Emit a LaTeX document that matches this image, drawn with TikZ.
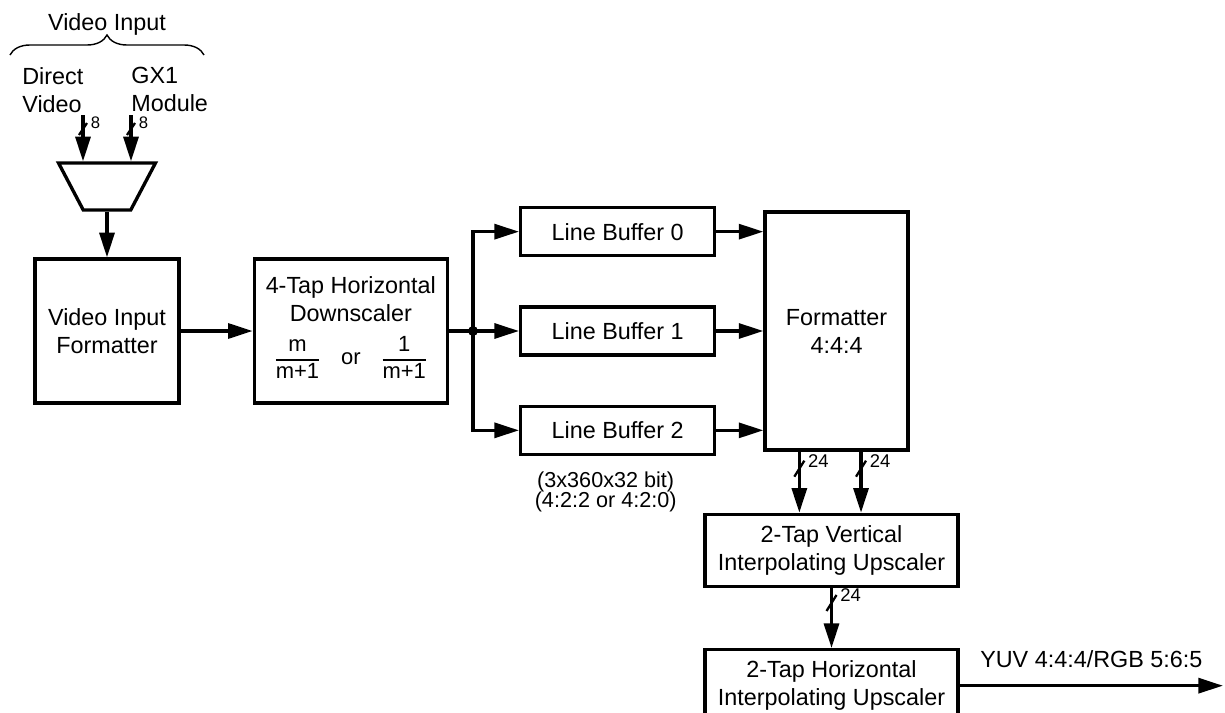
\documentclass[tikz,border=0pt]{standalone}
\usepackage{fontspec}
\setmainfont{Liberation Sans}
\usetikzlibrary{positioning,arrows.meta,shapes.geometric,decorations.pathreplacing}
\setlength{\arrayrulewidth}{1.3pt}
\newcommand{\fracbox}[2]{\begin{tabular}{@{}c@{}}#1\\\hline #2\end{tabular}}
\tikzstyle{block} = [rectangle, draw, line width=1.9pt, inner sep=0pt, align=center,
    font=\fontsize{13.3}{15.9}\selectfont]
\tikzstyle{txt} = [inner sep=0pt, align=left, font=\fontsize{13.3}{15.9}\selectfont]
\tikzstyle{arrow} = [-{Triangle[length=14pt,width=8.5pt]}, line width=1.9pt]
\tikzstyle{busmark} = [line width=1.3pt]
\tikzstyle{buswidth} = [anchor=west, inner xsep=1.5pt, inner ysep=0pt, font=\fontsize{10.5}{12}\selectfont]
\tikzstyle{curly} = [decorate, decoration={brace, amplitude=0.4cm}, line width=0.8pt]

\begin{document}
\begin{tikzpicture}
    \useasboundingbox (0,0) rectangle (24.5,-14.26);
    \clip (0,0) rectangle (24.5,-14.26);
    % Inputs
    \node (vidin) [txt, anchor=base] at (2.14,-0.60) {Video Input};
    \coordinate (brl) at (0.20,-1.10);
    \coordinate (brr) at (4.08,-1.10);
    \draw[curly] (brl) -- (brr);
    \node (dv) [txt, anchor=north west] at (0.44,-1.34) {Direct\\Video};
    \node (gx) [txt, anchor=north west] at (2.62,-1.34) {GX1\\Module};
    \coordinate (dvin) at (1.66,-2.30);
    \coordinate (gxin) at (2.62,-2.30);
    \node (mux) [trapezium, draw, line width=1.9pt, trapezium stretches=true, trapezium angle=62.5,
        shape border rotate=180, minimum width=1.94cm, minimum height=0.94cm, inner sep=2pt] at (2.14,-3.73) {};

    % Blocks
    \node (vif) [block, minimum width=2.88cm, minimum height=2.88cm] at (2.14,-6.62) {Video Input\\Formatter};
    \node (down) [block, minimum width=3.86cm, minimum height=2.88cm, right=1.44cm of vif]
        {4-Tap Horizontal\\Downscaler\\[6pt]{\fontsize{12.5}{14}\selectfont\fracbox{m}{m+1}\quad or\quad\fracbox{1}{m+1}}};
    \node (lb1) [block, minimum width=3.88cm, minimum height=0.96cm, right=1.40cm of down] {Line Buffer 1};
    \node (lb0) [block, minimum width=3.88cm, minimum height=0.96cm, above=0.96cm of lb1] {Line Buffer 0};
    \node (lb2) [block, minimum width=3.88cm, minimum height=0.96cm, below=0.96cm of lb1] {Line Buffer 2};
    \node (lbsize) [txt, align=center, font=\fontsize{12.3}{11.9}\selectfont, below=0.30cm of lb2, xshift=-0.24cm]
        {(3x360x32 bit)\\(4:2:2 or 4:2:0)};
    \node (fmt) [block, minimum width=2.86cm, minimum height=4.76cm, right=0.94cm of lb1] {Formatter\\4:4:4};
    \node (vup) [block, minimum width=5.06cm, minimum height=1.44cm, below=1.22cm of fmt, xshift=-0.10cm]
        {2-Tap Vertical\\Interpolating Upscaler};
    \node (hup) [block, minimum width=5.06cm, minimum height=1.44cm, below=1.20cm of vup]
        {2-Tap Horizontal\\Interpolating Upscaler};

    % Arrows
    \draw[arrow] (dvin) -- (dvin |- mux.north);
    \draw[arrow] (gxin) -- (gxin |- mux.north);
    \draw[busmark] (dvin) ++(-0.08,-0.40) -- ++(0.16,0.24) node[buswidth, font=\fontsize{9.5}{11}\selectfont]{8};
    \draw[busmark] (gxin) ++(-0.08,-0.40) -- ++(0.16,0.24) node[buswidth, font=\fontsize{9.5}{11}\selectfont]{8};
    \draw[arrow] (mux) -- (vif);
    \draw[arrow] (vif) -- (down);
    \coordinate (jn) at ([xshift=0.48cm]down.east);
    \draw[line width=1.9pt] (down) -- (jn);
    \fill (jn) circle (0.1);
    \draw[arrow] (jn) |- (lb0);
    \draw[arrow] (jn) -- (lb1);
    \draw[arrow] (jn) |- (lb2);
    \draw[arrow] (lb0) -- (lb0 -| fmt.west);
    \draw[arrow] (lb1) -- (fmt);
    \draw[arrow] (lb2) -- (lb2 -| fmt.west);
    \coordinate (fa) at ([xshift=0.72cm]fmt.south west);
    \coordinate (fb) at ([xshift=0.49cm]fmt.south);
    \draw[arrow] (fa) -- (fa |- vup.north);
    \draw[arrow] (fb) -- (fb |- vup.north);
    \draw[busmark] (fa) ++(-0.10,-0.50) -- ++(0.20,0.32) node[buswidth]{24};
    \draw[busmark] (fb) ++(-0.10,-0.50) -- ++(0.20,0.32) node[buswidth]{24};
    \draw[arrow] (vup) -- (hup);
    \draw[busmark] (vup.south) ++(-0.10,-0.46) -- ++(0.20,0.32) node[buswidth]{24};
    \coordinate (yuvout) at (24.46,-13.58);
    \draw[arrow] (hup.east) -- (yuvout |- hup.east) node[txt, midway, above=9.4pt] {YUV 4:4:4/RGB 5:6:5};
\end{tikzpicture}
\end{document}
